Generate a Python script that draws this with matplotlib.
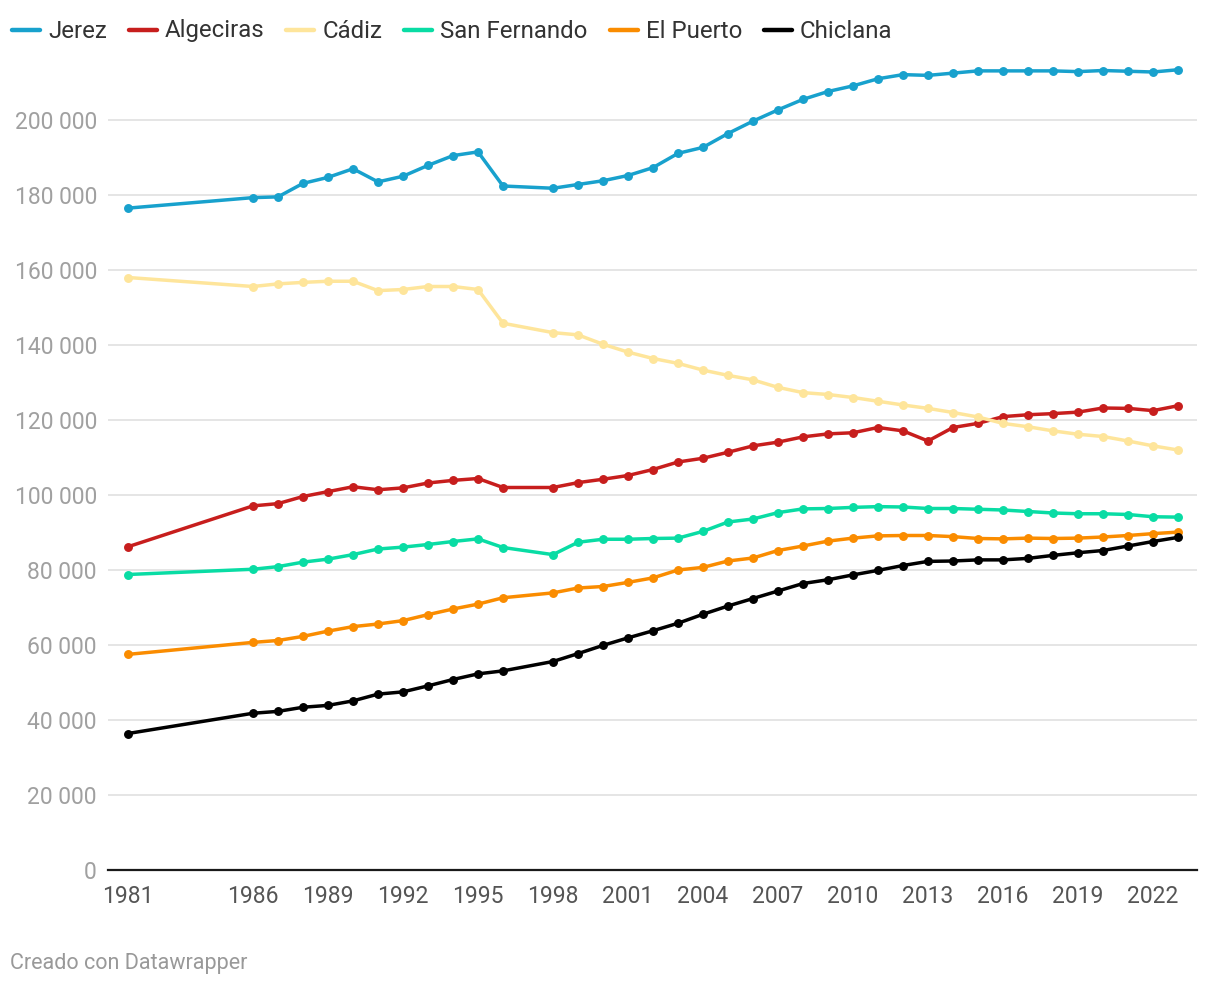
import matplotlib
matplotlib.use("Agg")
import matplotlib.pyplot as plt
from matplotlib.lines import Line2D
from matplotlib.ticker import FuncFormatter, FixedLocator

plt.rcParams['font.family'] = ['Roboto', 'DejaVu Sans']

years = [1981] + list(range(1986, 1997)) + list(range(1998, 2024))

jerez = [176.5, 179.3, 179.5, 183.1, 184.7, 187.0, 183.5, 185.0, 187.9, 190.5, 191.5,
         182.4, 181.8, 182.8, 183.8, 185.2, 187.3, 191.1, 192.7, 196.4, 199.7, 202.7,
         205.5, 207.6, 209.1, 211.0, 212.1, 211.9, 212.5, 213.1, 213.1, 213.1, 213.1,
         212.9, 213.2, 213.0, 212.8, 213.4]
algeciras = [86.2, 97.1, 97.7, 99.6, 100.9, 102.2, 101.4, 101.9, 103.2, 103.9, 104.4,
             102.0, 102.0, 103.3, 104.2, 105.2, 106.8, 108.8, 109.8, 111.4, 113.1, 114.1,
             115.5, 116.3, 116.6, 118.0, 117.1, 114.4, 118.0, 119.1, 120.9, 121.4, 121.7,
             122.1, 123.2, 123.1, 122.5, 123.8]
cadiz = [158.0, 155.6, 156.3, 156.7, 157.0, 157.0, 154.5, 154.8, 155.6, 155.6, 154.8,
         145.8, 143.3, 142.7, 140.2, 138.1, 136.4, 135.1, 133.3, 131.9, 130.7, 128.7,
         127.3, 126.8, 126.0, 125.0, 124.0, 123.1, 122.0, 120.8, 119.1, 118.2, 117.1,
         116.2, 115.6, 114.4, 113.1, 112.0]
san_fernando = [78.8, 80.2, 80.9, 82.1, 82.9, 84.1, 85.6, 86.1, 86.8, 87.6, 88.3,
                86.0, 84.1, 87.4, 88.2, 88.2, 88.4, 88.5, 90.3, 92.8, 93.6, 95.3,
                96.3, 96.4, 96.7, 96.9, 96.8, 96.4, 96.4, 96.2, 96.0, 95.6, 95.2,
                95.0, 95.0, 94.8, 94.2, 94.1]
el_puerto = [57.5, 60.7, 61.2, 62.3, 63.7, 64.9, 65.6, 66.5, 68.1, 69.6, 70.9,
             72.6, 73.9, 75.2, 75.6, 76.7, 77.9, 80.0, 80.7, 82.4, 83.2, 85.2,
             86.4, 87.7, 88.5, 89.1, 89.2, 89.2, 88.9, 88.4, 88.3, 88.5, 88.4,
             88.5, 88.8, 89.2, 89.7, 90.1]
chiclana = [36.4, 41.8, 42.3, 43.4, 43.9, 45.1, 46.9, 47.5, 49.1, 50.8, 52.3,
            53.1, 55.6, 57.7, 59.9, 61.9, 63.8, 65.8, 68.2, 70.4, 72.4, 74.4,
            76.4, 77.4, 78.7, 79.9, 81.2, 82.3, 82.4, 82.7, 82.7, 83.1, 83.9,
            84.6, 85.2, 86.4, 87.6, 88.7]

series_names = ["Jerez", "Algeciras", "Cádiz", "San Fernando", "El Puerto", "Chiclana"]
series_values = [jerez, algeciras, cadiz, san_fernando, el_puerto, chiclana]
colors = ["#18a1cd", "#c71e1d", "#fee59b", "#09dca4", "#fa8c00", "#000000"]

x_ticks = [1981, 1986, 1989, 1992, 1995, 1998, 2001, 2004, 2007, 2010, 2013, 2016, 2019, 2022]
y_ticks = [0, 20000, 40000, 60000, 80000, 100000, 120000, 140000, 160000, 180000, 200000]

W, H = 1220, 986
fig = plt.figure(figsize=(W / 100, H / 100), dpi=100)
ax = fig.add_axes([108 / W, 1 - 870 / H, (1197 - 108) / W, (870 - 45) / H])

for name, vals, c in zip(series_names, series_values, colors):
    ax.plot(years, [v * 1000 for v in vals], color=c, lw=2.5, marker="o", ms=5.4,
            solid_capstyle="round", solid_joinstyle="round", clip_on=False, zorder=3)

ax.set_xlim(1980.2, 2023.76)
ax.set_ylim(0, 220000)
ax.yaxis.set_major_locator(FixedLocator(y_ticks))
ax.xaxis.set_major_locator(FixedLocator(x_ticks))
ax.yaxis.set_major_formatter(FuncFormatter(lambda v, p: f"{int(v):,}".replace(",", " ")))
ax.grid(axis="y", color="#e3e3e3", lw=1.3, zorder=0)
ax.grid(axis="x", visible=False)
for s in ["top", "right", "left"]:
    ax.spines[s].set_visible(False)
ax.spines["bottom"].set_color("#1a1a1a")
ax.spines["bottom"].set_linewidth(1.6)
ax.spines["bottom"].set_zorder(4)
ax.tick_params(axis="y", length=0, pad=8, labelsize=16.5, labelcolor="#a0a0a0")
ax.tick_params(axis="x", length=0, pad=11, labelsize=16.5, labelcolor="#555555")
ax.set_axisbelow(True)

# Legend (manual, Datawrapper style)
renderer = fig.canvas.get_renderer()
x = 12
ly = 30
base = 37.5
for name, c in zip(series_names, colors):
    fig.add_artist(Line2D([x / W, (x + 28) / W], [1 - ly / H, 1 - ly / H], color=c, lw=3.2,
                          solid_capstyle="round", transform=fig.transFigure))
    t = fig.text((x + 36) / W, 1 - base / H, name, fontsize=17.3, color="#333333",
                 va="baseline", ha="left")
    bb = t.get_window_extent(renderer=renderer)
    x = bb.x1 + 22

fig.text(10 / W, 1 - 963 / H, "Creado con Datawrapper", fontsize=15.5, color="#999999",
         va="center", ha="left")

fig.savefig("out.png", dpi=100, facecolor="white")
